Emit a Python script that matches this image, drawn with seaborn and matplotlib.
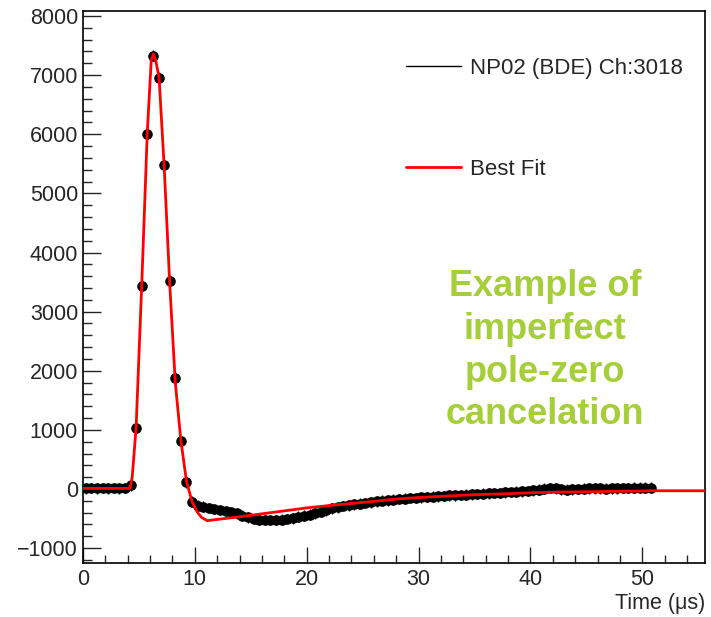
import numpy as np
import pandas as pd
import matplotlib
matplotlib.use("Agg")
import matplotlib.pyplot as plt
import seaborn as sns
from matplotlib.ticker import MultipleLocator
from matplotlib.lines import Line2D

# ---- data ----
# sample times (bin centres, 0.5 us bins)
time_us = np.arange(0.25, 51.0, 0.5)
adc = [
    10, 15, 10, 15, 10, 15, 10, 15, 60,
    1030, 3440, 6010, 7330, 6960, 5480, 3520, 1880, 810, 110, -215,
    -280, -300, -320, -340, -355, -370, -390, -410, -450, -480,
    -505, -520, -525, -525, -525, -520, -510, -495, -470, -450,
    -435, -410, -390, -360, -330, -310, -290, -275, -260, -250,
    -240, -225, -210, -200, -190, -180, -170, -165, -155, -150,
    -140,
    -135, -130, -125, -120, -110, -105, -100, -95, -90, -85,
    -80, -75, -70, -65, -55, -50, -45, -40, -35, -25,
    -10, 5, 15, 10, -5, -10, -5, 0, 5, 10,
    10, 10, 5, 10, 10, 15, 15, 20, 25, 25, 25,
]
adc_err = 90

fit_time = [0, 4.2, 4.4, 4.75, 5.25, 5.75, 6.1, 6.3, 6.5, 6.8, 7.25, 7.75, 8.25,
            8.75, 9.25, 9.75, 10.25, 10.6, 11.1, 12, 14, 16, 18, 20, 22, 24, 26,
            28, 30, 32, 34, 36, 38, 40, 42, 44, 46, 48, 50, 50.75, 56]
fit_adc = [10, 10, 200, 1050, 3450, 6050, 7250, 7360, 7250, 6960, 5480, 3480, 1800,
           820, 130, -215, -400, -480, -536, -515, -470, -420, -370, -320, -280, -245, -210,
           -170, -145, -125, -105, -90, -80, -65, -55, -50, -45, -40, -35, -30, -30]

legend_labels = ["NP02 (BDE) Ch:3018", "Best Fit"]
annotation = "Example of\nimperfect\npole-zero\ncancelation"
x_label = "Time (\u03bcs)"

# ---- plotting ----
sns.set_style("ticks")
plt.rcParams['font.family'] = ['Liberation Sans', 'DejaVu Sans']

W, H = 711, 617
fig = plt.figure(figsize=(W / 100, H / 100), dpi=100)
ax = fig.add_axes([83 / W, 1 - 563 / H, 622 / W, 552 / H])

df = pd.DataFrame({"t": time_us, "adc": adc})
fitdf = pd.DataFrame({"t": fit_time, "adc": fit_adc})

ax.errorbar(df["t"], df["adc"], yerr=adc_err, xerr=0.25, fmt='none', ecolor='black',
            elinewidth=1.0, zorder=2)
sns.scatterplot(data=df, x="t", y="adc", color='black', s=58, edgecolor='black',
                linewidth=0, ax=ax, zorder=3, legend=False)
sns.lineplot(data=fitdf, x="t", y="adc", color='red', lw=2.0, ax=ax, zorder=4,
             sort=False, legend=False)

ax.set_xlim(0, 55.6)
ax.set_ylim(-1252, 8085)
ax.set_xlabel("")
ax.set_ylabel("")

ax.xaxis.set_major_locator(MultipleLocator(10))
ax.xaxis.set_minor_locator(MultipleLocator(2))
ax.yaxis.set_major_locator(MultipleLocator(1000))
ax.yaxis.set_minor_locator(MultipleLocator(200))

ax.tick_params(axis='x', which='major', direction='in', length=11.5, width=1.0,
               labelsize=15.5, pad=4.5, top=False)
ax.tick_params(axis='x', which='minor', direction='in', length=5.8, width=1.0, top=False)
ax.tick_params(axis='y', which='major', direction='in', length=13, width=1.0,
               labelsize=15.5, pad=3.6, right=False)
ax.tick_params(axis='y', which='minor', direction='in', length=6.5, width=1.0, right=False)

for sp in ax.spines.values():
    sp.set_color('black')
    sp.set_linewidth(1.2)

handles = [Line2D([], [], color='black', lw=1.0),
           Line2D([], [], color='red', lw=2.0)]
ax.legend(handles, legend_labels, loc='center left', bbox_to_anchor=(0.519, 0.804),
          frameon=False, fontsize=16, handlelength=2.5, handletextpad=0.4,
          labelspacing=3.6, borderpad=0, borderaxespad=0)

ax.text(41.3, 2340, annotation, ha='center', va='center', fontsize=26,
        fontweight='bold', color='#a6ce39', linespacing=1.29)

fig.text(705 / W, 1 - 604 / H, x_label, ha='right', va='center', fontsize=15.5)

fig.savefig("out.png", dpi=100)
